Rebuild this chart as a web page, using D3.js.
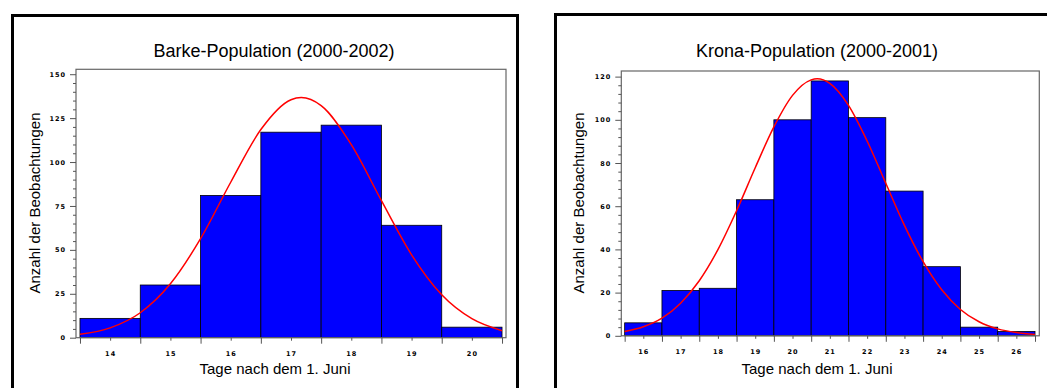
<!DOCTYPE html>
<html>
<head>
<meta charset="utf-8">
<script src="https://cdn.jsdelivr.net/npm/d3@7"></script>
<style>
  body { margin: 0; background: #fff; }
  svg { display: block; }
  .tick text { font-family: "DejaVu Sans", "Liberation Sans", sans-serif; font-weight: bold; font-size: 6.5px; letter-spacing: 1px; fill: #000; }
  .axis path { display: none; }
  .axis line { stroke: #555; }
</style>
</head>
<body>
<svg id="chart" width="1047" height="388"></svg>
<script>
// Barke population
const barkeDays = [14, 15, 16, 17, 18, 19, 20];
const barkeCounts = [11, 30, 81, 117, 121, 64, 6];
const barkeCurveX = [13.5, 14, 14.5, 15, 15.5, 16, 16.5, 17, 17.17, 17.5, 18, 18.5, 19, 19.5, 20, 20.5];
const barkeCurveY = [1.9, 5.6, 14.2, 30.7, 56.4, 88.5, 118.5, 135.5, 136.7, 132.1, 109.9, 78, 47.2, 24.4, 10.8, 4];
const barkeYTicks = [0, 25, 50, 75, 100, 125, 150];

// Krona population
const kronaDays = [16, 17, 18, 19, 20, 21, 22, 23, 24, 25, 26];
const kronaCounts = [6, 21, 22, 63, 100, 118, 101, 67, 32, 4, 2];
const kronaCurveX = [15.5, 16, 16.5, 17, 17.5, 18, 18.5, 19, 19.5, 20, 20.5, 20.66, 21, 21.5, 22, 22.5, 23, 23.5, 24, 24.5, 25, 25.5, 26, 26.5];
const kronaCurveY = [1.95, 4.2, 8.2, 15.1, 25.5, 39.9, 57.9, 77.8, 96.7, 111.3, 118.5, 119, 116.9, 106.7, 90.2, 70.6, 51.1, 34.3, 21.3, 12.2, 6.5, 3.2, 1.5, 0.6];
const kronaYTicks = [0, 20, 40, 60, 80, 100, 120];

const xLabel = 'Tage nach dem 1. Juni';
const yLabel = 'Anzahl der Beobachtungen';

const svg = d3.select('#chart');

function drawPanel(p) {
    // outer box
    svg.append('rect')
        .attr('x', p.box[0]).attr('y', p.box[1])
        .attr('width', p.box[2]).attr('height', p.box[3])
        .attr('fill', 'none').attr('stroke', '#000').attr('stroke-width', 3);

    const x = d3.scaleLinear().domain(p.xDomain).range([p.left, p.right]);
    const y = d3.scaleLinear().domain(p.yDomain).range([p.bottom, p.top]);

    const g = svg.append('g');

    // bars
    g.selectAll('rect.bar')
        .data(p.days.map((d, i) => ({day: d, n: p.counts[i]})))
        .enter().append('rect')
        .attr('class', 'bar')
        .attr('x', d => x(d.day - 0.5))
        .attr('y', d => y(d.n))
        .attr('width', d => x(d.day + 0.5) - x(d.day - 0.5))
        .attr('height', d => y(0) - y(d.n))
        .attr('fill', '#0000ff')
        .attr('stroke', '#000')
        .attr('stroke-width', 0.8);

    // fitted curve
    const line = d3.line()
        .x(d => x(d[0]))
        .y(d => y(d[1]))
        .curve(d3.curveMonotoneX);
    g.append('path')
        .datum(p.curveX.map((v, i) => [v, p.curveY[i]]))
        .attr('d', line)
        .attr('fill', 'none')
        .attr('stroke', '#ff0000')
        .attr('stroke-width', 1.5);

    // plot frame
    g.append('rect')
        .attr('x', p.left).attr('y', p.top)
        .attr('width', p.right - p.left).attr('height', p.bottom - p.top)
        .attr('fill', 'none').attr('stroke', '#666').attr('stroke-width', 1.2);

    // y axis: minor + major ticks
    const yMinor = d3.range(p.yTicks[0], p.yTicks[p.yTicks.length - 1] + 0.001, p.yMinorStep)
        .filter(v => p.yTicks.indexOf(v) < 0);
    g.append('g').attr('class', 'axis')
        .attr('transform', `translate(${p.left},0)`)
        .call(d3.axisLeft(y).tickValues(yMinor).tickSize(3).tickFormat(''));
    g.append('g').attr('class', 'axis')
        .attr('transform', `translate(${p.left},0)`)
        .call(d3.axisLeft(y).tickValues(p.yTicks).tickSize(6).tickPadding(4).tickFormat(d3.format('d')));

    // x axis: bin edges long ticks, day centres short ticks with labels
    const edges = p.days.map(d => d - 0.5).concat([p.days[p.days.length - 1] + 0.5]);
    g.append('g').attr('class', 'axis')
        .attr('transform', `translate(0,${p.bottom})`)
        .call(d3.axisBottom(x).tickValues(edges).tickSize(6).tickFormat(''));
    g.append('g').attr('class', 'axis')
        .attr('transform', `translate(0,${p.bottom})`)
        .call(d3.axisBottom(x).tickValues(p.days).tickSize(3).tickPadding(11).tickFormat(d3.format('d')));

    // texts
    svg.append('text')
        .attr('x', p.titleX).attr('y', 57)
        .attr('text-anchor', 'middle')
        .style('font-family', '"Liberation Sans", Arial, sans-serif')
        .style('font-size', '18px')
        .text(p.title);

    svg.append('text')
        .attr('x', p.xLabelX).attr('y', 374)
        .attr('text-anchor', 'middle')
        .style('font-family', '"Liberation Sans", Arial, sans-serif')
        .style('font-size', '15px')
        .text(xLabel);

    svg.append('text')
        .attr('transform', `translate(${p.yLabelX},203) rotate(-90)`)
        .attr('text-anchor', 'middle')
        .style('font-family', '"Liberation Sans", Arial, sans-serif')
        .style('font-size', '15px')
        .text(yLabel);
}

drawPanel({
    title: 'Barke-Population (2000-2002)',
    days: barkeDays, counts: barkeCounts,
    curveX: barkeCurveX, curveY: barkeCurveY,
    yTicks: barkeYTicks, yMinorStep: 5,
    box: [12.5, 15.5, 505, 400],
    left: 76, right: 506, top: 69.3, bottom: 337.7,
    xDomain: [13.434, 20.566], yDomain: [0, 152.8],
    titleX: 274, xLabelX: 275, yLabelX: 39.5
});

drawPanel({
    title: 'Krona-Population (2000-2001)',
    days: kronaDays, counts: kronaCounts,
    curveX: kronaCurveX, curveY: kronaCurveY,
    yTicks: kronaYTicks, yMinorStep: 4,
    box: [555.5, 14.5, 520, 400],
    left: 621.3, right: 1039.3, top: 71, bottom: 335.8,
    xDomain: [15.41, 26.615], yDomain: [0, 122.6],
    titleX: 817, xLabelX: 817, yLabelX: 584
});
</script>
</body>
</html>
